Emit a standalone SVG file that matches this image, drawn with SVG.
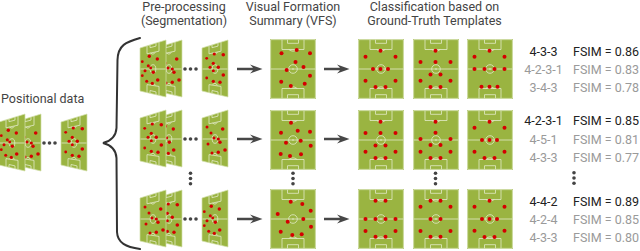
<svg xmlns="http://www.w3.org/2000/svg" width="640" height="251" viewBox="0 0 640 251">
<style>
.t{font-family:Roboto,"Liberation Sans",sans-serif;font-size:12.5px;fill:#444}
.c{text-anchor:middle}
.k{fill:#222}
.g{fill:#9a9a9a}
.pf{fill:#9ab441;stroke:#d3dfab;stroke-width:0.7}
.pl{fill:none;stroke:#e2eac8;stroke-width:0.8}
.r{fill:#d40000}
.dd{fill:#444}
.ar{fill:#474747}
.br{fill:none;stroke:#333;stroke-width:2;stroke-linecap:round}
</style>
<defs>
<g id="frm">
<polygon class="pf" points="0,-21 26,-29 26,28 0,22"/>
<g class="pl">
<line x1="0.5" y1="0" x2="25.5" y2="0"/>
<ellipse cx="13" cy="0" rx="2.8" ry="4.3"/>
<path d="M7,-23.2 V-15.2 L19,-17.8 V-26.8 M10,-24.1 V-21.3 L16,-22.9 V-25.7 M10.5,-15.9 Q13,-13.3 15.5,-16.6"/>
<path d="M7,23.6 V15.6 L19,17.4 V26.4 M10,24.3 V21.5 L16,22.9 V25.7 M10.5,15.4 Q13,12.8 15.5,16"/>
</g>
</g>
<g id="dA" class="r">
<circle cx="9.3" cy="-12.7" r="1.7"/><circle cx="17.3" cy="-10" r="1.7"/><circle cx="2.3" cy="-7.3" r="1.4"/><circle cx="8.3" cy="-3.3" r="1.5"/><circle cx="10.7" cy="-1" r="1.4"/><circle cx="5" cy="1.7" r="1.5"/><circle cx="13.3" cy="3.3" r="1.7"/><circle cx="2.3" cy="6.7" r="1.4"/><circle cx="6.7" cy="12.3" r="1.5"/><circle cx="12.3" cy="14.3" r="1.6"/><circle cx="17.7" cy="11" r="1.8"/>
</g>
<g id="dB" class="r">
<circle cx="5" cy="-12" r="1.5"/><circle cx="20.7" cy="-10" r="1.8"/><circle cx="9" cy="-6" r="1.5"/><circle cx="12" cy="-1" r="1.5"/><circle cx="16.3" cy="0" r="1.6"/><circle cx="18" cy="3.3" r="1.7"/><circle cx="6" cy="5" r="1.5"/><circle cx="23" cy="11" r="1.8"/><circle cx="16.3" cy="13.3" r="1.7"/><circle cx="10" cy="14" r="1.5"/>
</g>
<g id="dC" class="r">
<circle cx="12.3" cy="-15" r="1.6"/><circle cx="21.3" cy="-14.3" r="1.8"/><circle cx="4.7" cy="-10.7" r="1.4"/><circle cx="11.3" cy="-5.7" r="1.6"/><circle cx="8" cy="-1.7" r="1.5"/><circle cx="16.3" cy="-1.7" r="1.7"/><circle cx="11.3" cy="1.7" r="1.5"/><circle cx="21.3" cy="6" r="1.8"/><circle cx="4.7" cy="9" r="1.4"/><circle cx="11.3" cy="12.3" r="1.6"/><circle cx="18" cy="13.3" r="1.7"/>
</g>
<g id="hd" class="dd"><circle cx="45" cy="0" r="1.8"/><circle cx="50.5" cy="0" r="1.8"/><circle cx="56" cy="0" r="1.8"/></g>
<g id="vd" class="dd"><circle cx="0" cy="-5.2" r="1.8"/><circle cx="0" cy="0" r="1.8"/><circle cx="0" cy="5.2" r="1.8"/></g>
<g id="pitch">
<rect width="46" height="60" fill="#9ab441"/>
<g class="pl">
<rect x="0.7" y="0.7" width="44.6" height="58.6"/>
<line x1="0.7" y1="30" x2="45.3" y2="30"/>
<circle cx="23" cy="30" r="4.3"/>
<path d="M12,0.7 V10.5 H34 V0.7 M17.5,0.7 V4.3 H28.5 V0.7 M18.8,10.5 Q23,13.8 27.2,10.5"/>
<path d="M12,59.3 V49.5 H34 V59.3 M17.5,59.3 V55.7 H28.5 V59.3 M18.8,49.5 Q23,46.2 27.2,49.5"/>
</g>
<circle cx="23" cy="30" r="0.8" fill="#e2eac8"/>
</g>
<g id="f433" class="r"><circle cx="22.5" cy="11.7" r="2"/><circle cx="7.5" cy="17.7" r="2"/><circle cx="37.5" cy="17.7" r="2"/><circle cx="15" cy="30" r="2"/><circle cx="22.5" cy="30" r="2"/><circle cx="30" cy="30" r="2"/><circle cx="7.5" cy="41.8" r="2"/><circle cx="37.5" cy="41.8" r="2"/><circle cx="17.5" cy="48" r="2"/><circle cx="27.5" cy="48" r="2"/></g>
<g id="f4231" class="r"><circle cx="22.5" cy="11.7" r="2"/><circle cx="7.5" cy="23" r="2"/><circle cx="22.5" cy="23" r="2"/><circle cx="37.5" cy="23" r="2"/><circle cx="17.5" cy="35.5" r="2"/><circle cx="27.5" cy="35.5" r="2"/><circle cx="7.5" cy="41.8" r="2"/><circle cx="37.5" cy="41.8" r="2"/><circle cx="17.5" cy="48" r="2"/><circle cx="27.5" cy="48" r="2"/></g>
<g id="f343" class="r"><circle cx="22.5" cy="11.7" r="2"/><circle cx="7.5" cy="17.7" r="2"/><circle cx="37.5" cy="17.7" r="2"/><circle cx="7.5" cy="30" r="2"/><circle cx="17.5" cy="30" r="2"/><circle cx="27.5" cy="30" r="2"/><circle cx="37.5" cy="30" r="2"/><circle cx="14.5" cy="47.7" r="2"/><circle cx="22.5" cy="47.7" r="2"/><circle cx="30.5" cy="47.7" r="2"/></g>
<g id="f451" class="r"><circle cx="22.5" cy="11.7" r="2"/><circle cx="22.5" cy="22.7" r="2"/><circle cx="7.5" cy="29" r="2"/><circle cx="37.5" cy="29" r="2"/><circle cx="17.5" cy="35" r="2"/><circle cx="27.5" cy="35" r="2"/><circle cx="7.5" cy="41.8" r="2"/><circle cx="37.5" cy="41.8" r="2"/><circle cx="17.5" cy="48" r="2"/><circle cx="27.5" cy="48" r="2"/></g>
<g id="f442" class="r"><circle cx="17.5" cy="11.7" r="2"/><circle cx="27.5" cy="11.7" r="2"/><circle cx="7.5" cy="30" r="2"/><circle cx="17.5" cy="30" r="2"/><circle cx="27.5" cy="30" r="2"/><circle cx="37.5" cy="30" r="2"/><circle cx="7.5" cy="42" r="2"/><circle cx="37.5" cy="42" r="2"/><circle cx="17.5" cy="47.7" r="2"/><circle cx="27.5" cy="47.7" r="2"/></g>
<g id="f424" class="r"><circle cx="17.5" cy="11.7" r="2"/><circle cx="27.5" cy="11.7" r="2"/><circle cx="7.5" cy="17.7" r="2"/><circle cx="37.5" cy="17.7" r="2"/><circle cx="17.5" cy="30" r="2"/><circle cx="27.5" cy="30" r="2"/><circle cx="7.5" cy="42" r="2"/><circle cx="37.5" cy="42" r="2"/><circle cx="17.5" cy="47.7" r="2"/><circle cx="27.5" cy="47.7" r="2"/></g>
<path id="arw" class="ar" d="M0,-1.3 H16 L13,-4.6 L25.5,0 L13,4.6 L16,1.3 H0 Z"/>
</defs>

<!-- titles -->
<g id="titles" class="t c">
<text x="184" y="10.5">Pre-processing</text>
<text x="184" y="24.5">(Segmentation)</text>
<text x="293" y="10.5">Visual Formation</text>
<text x="293" y="24.5">Summary (VFS)</text>
<text x="434.5" y="10.5">Classification based on</text>
<text x="434.5" y="24.5">Ground-Truth Templates</text>
</g>

<!-- positional data -->
<g id="positional-data">
<text class="t" x="1" y="103">Positional data</text>
<g transform="translate(-1,143)">
<use href="#frm" x="16"/><use href="#dB" x="16"/>
<use href="#frm"/><use href="#dA"/>
<use href="#hd"/>
<use href="#frm" x="62"/><use href="#dC" x="62"/>
</g>
</g>

<!-- segmentation rows -->
<g id="segmentation-1" transform="translate(140,69)">
<use href="#frm" x="16"/><use href="#dB" x="16"/>
<use href="#frm"/><use href="#dA"/>
<use href="#hd"/>
<use href="#frm" x="62"/><use href="#dC" x="62"/>
</g>
<g id="segmentation-2" transform="translate(140,139)">
<use href="#frm" x="16"/><use href="#dA" x="16"/>
<use href="#frm"/><use href="#dC"/>
<use href="#hd"/>
<use href="#frm" x="62"/><use href="#dB" x="62"/>
</g>
<g id="segmentation-3" transform="translate(140,219)">
<use href="#frm" x="16"/><use href="#dC" x="16"/>
<use href="#frm"/><use href="#dB"/>
<use href="#hd"/>
<use href="#frm" x="62"/><use href="#dA" x="62"/>
</g>
<use href="#vd" x="190.5" y="178.5"/>

<!-- VFS -->
<g id="vfs-1" transform="translate(270,39)">
<use href="#pitch"/>
<g class="r"><circle cx="11.5" cy="14.3" r="2"/><circle cx="26.7" cy="11" r="2"/><circle cx="40" cy="14.3" r="2"/><circle cx="25.5" cy="23" r="2"/><circle cx="16.7" cy="31" r="2"/><circle cx="33.5" cy="28" r="2"/><circle cx="40" cy="36.7" r="2"/><circle cx="11.2" cy="42.7" r="2"/><circle cx="20.8" cy="47" r="2"/><circle cx="34.7" cy="44.7" r="2"/></g>
</g>
<g id="vfs-2" transform="translate(270,110)">
<use href="#pitch"/>
<g class="r"><circle cx="21" cy="12.7" r="2"/><circle cx="11" cy="22.7" r="2"/><circle cx="27.7" cy="20.7" r="2"/><circle cx="40" cy="21.7" r="2"/><circle cx="16" cy="32.7" r="2"/><circle cx="30.7" cy="30.7" r="2"/><circle cx="40.7" cy="35.7" r="2"/><circle cx="10.7" cy="44" r="2"/><circle cx="20" cy="46" r="2"/><circle cx="31" cy="44.3" r="2"/></g>
</g>
<g id="vfs-3" transform="translate(270,189)">
<use href="#pitch"/>
<g class="r"><circle cx="20.7" cy="12.7" r="2"/><circle cx="32.3" cy="15" r="2"/><circle cx="7.7" cy="25" r="2"/><circle cx="40.7" cy="21.7" r="2"/><circle cx="17.7" cy="32.7" r="2"/><circle cx="33.3" cy="30" r="2"/><circle cx="41" cy="37.7" r="2"/><circle cx="10.7" cy="42.7" r="2"/><circle cx="22.3" cy="46" r="2"/><circle cx="31.7" cy="45.3" r="2"/></g>
</g>
<use href="#vd" x="293" y="178.5"/>

<!-- templates -->
<g id="templates-1">
<use href="#pitch" x="358" y="39"/><use href="#f433" x="358" y="39"/>
<use href="#pitch" x="413" y="39"/><use href="#f4231" x="413" y="39"/>
<use href="#pitch" x="467" y="39"/><use href="#f343" x="467" y="39"/>
</g>
<g id="templates-2">
<use href="#pitch" x="358" y="110"/><use href="#f4231" x="358" y="110"/>
<use href="#pitch" x="413" y="110"/><use href="#f451" x="413" y="110"/>
<use href="#pitch" x="467" y="110"/><use href="#f433" x="467" y="110"/>
</g>
<g id="templates-3">
<use href="#pitch" x="358" y="189"/><use href="#f442" x="358" y="189"/>
<use href="#pitch" x="413" y="189"/><use href="#f424" x="413" y="189"/>
<use href="#pitch" x="467" y="189"/><use href="#f433" x="467" y="189"/>
</g>
<use href="#vd" x="435.5" y="178.5"/>

<!-- scores -->
<g id="scores-1" class="t">
<text class="c k" x="543.5" y="56">4-3-3</text><text class="k" x="573" y="56">FSIM = 0.86</text>
<text class="c g" x="543.5" y="73.8">4-2-3-1</text><text class="g" x="573" y="73.8">FSIM = 0.83</text>
<text class="c g" x="543.5" y="91.8">3-4-3</text><text class="g" x="573" y="91.8">FSIM = 0.78</text>
</g>
<g id="scores-2" class="t">
<text class="c k" x="543.5" y="125.2">4-2-3-1</text><text class="k" x="573" y="125.2">FSIM = 0.85</text>
<text class="c g" x="543.5" y="143.8">4-5-1</text><text class="g" x="573" y="143.8">FSIM = 0.81</text>
<text class="c g" x="543.5" y="161.8">4-3-3</text><text class="g" x="573" y="161.8">FSIM = 0.77</text>
</g>
<use href="#vd" x="574" y="178"/>
<g id="scores-3" class="t">
<text class="c k" x="543.5" y="206.2">4-4-2</text><text class="k" x="573" y="206.2">FSIM = 0.89</text>
<text class="c g" x="543.5" y="223.8">4-2-4</text><text class="g" x="573" y="223.8">FSIM = 0.85</text>
<text class="c g" x="543.5" y="241.8">4-3-3</text><text class="g" x="573" y="241.8">FSIM = 0.80</text>
</g>

<!-- connectors -->
<g id="connectors">
<path class="br" d="M140,38 C126,42 118,45 117.5,60 L116.5,128 C116,136 111,141 103,143 C111,145 116,150 116.5,158 L117,232 C117.5,243 126,247 140,249"/>
<use href="#arw" x="237" y="69"/><use href="#arw" x="324" y="69"/>
<use href="#arw" x="237" y="139"/><use href="#arw" x="324" y="139"/>
<use href="#arw" x="237" y="219"/><use href="#arw" x="324" y="219"/>
</g>
</svg>
